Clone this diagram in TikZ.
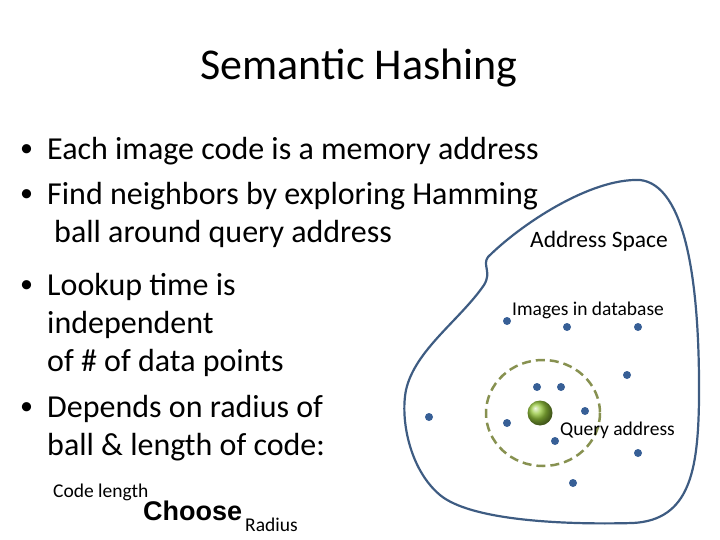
\documentclass[tikz,border=0pt]{standalone}
\usepackage{fontspec}
\setmainfont{Carlito}
\newfontfamily\arialb{Liberation Sans}
\definecolor{blobc}{RGB}{62,92,130}
\definecolor{dashc}{RGB}{135,145,80}
\definecolor{dotc}{RGB}{55,95,150}
\definecolor{ballc}{RGB}{150,200,60}
\begin{document}
\begin{tikzpicture}[x=1pt,y=-1pt,
  txt/.style={anchor=west,inner sep=0pt,font=\fontsize{32}{36}\selectfont},
  sm/.style={anchor=west,inner sep=0pt,font=\fontsize{19.5}{22}\selectfont},
  dot/.style={circle,fill=dotc,minimum size=8pt,inner sep=0pt}]
\useasboundingbox (0,0) rectangle (720,540);
\node[inner sep=0pt,font=\fontsize{44}{48}\selectfont] (title) at (359,68) {Semantic Hashing};
\foreach \n/\y in {u1/151,u2/196,u3/287,u4/409}
  \node[anchor=west,inner sep=0pt,font=\fontsize{26}{30}\selectfont] (\n) at (20,\y) {\textbullet};
\node[txt] (b1) at (47,151) {Each image code is a memory address};
\node[txt] (b2) at (47,196) {Find neighbors by exploring Hamming};
\node[txt] (b2b) at (54,234) {ball around query address};
\node[txt] (b3) at (47,287) {Lookup time is};
\node[txt] (b3b) at (47,325) {independent};
\node[txt] (b3c) at (47,363) {of \# of data points};
\node[txt] (b4) at (47,409) {Depends on radius of};
\node[txt] (b4b) at (47,447) {ball \& length of code:};
\node[sm] (cl) at (53,492) {Code length};
\node[anchor=west,inner sep=0pt,font=\arialb\bfseries\fontsize{27}{30}\selectfont] (ch) at (143,511) {Choose};
\node[sm] (rad) at (245,525) {Radius};
\node[anchor=west,inner sep=0pt,font=\fontsize{23.5}{26}\selectfont] (as) at (530,241) {Address Space};
\draw[line width=2.2pt,color=blobc] (640,180)
  .. controls (685,185) and (700,280) .. (699,400)
  .. controls (698,470) and (690,520) .. (633,523)
  .. controls (560,525) and (470,520) .. (440,495)
  .. controls (410,470) and (400,420) .. (406,390)
  .. controls (415,350) and (460,320) .. (484,285)
  .. controls (492,272) and (482,265) .. (488,257)
  .. controls (520,225) and (590,178) .. (640,180) -- cycle;
\draw[line width=2.5pt,dash pattern=on 9pt off 5pt,color=dashc] (543,413) ellipse (57 and 53);
\shade[ball color=ballc] (540,413) circle (12.5);
\foreach \n/\x/\y in {d1/507/321,d2/567/327,d3/638/327,d4/627/375,d5/537/387,d6/561/387,d7/585/411,d8/507/423,d9/429/417,d10/555/441,d11/638/453,d12/573/483}
  \node[dot] (\n) at (\x,\y) {};
\node[sm] (img) at (512,310) {Images in database};
\node[sm] (qa) at (560,430) {Query address};
\end{tikzpicture}
\end{document}
